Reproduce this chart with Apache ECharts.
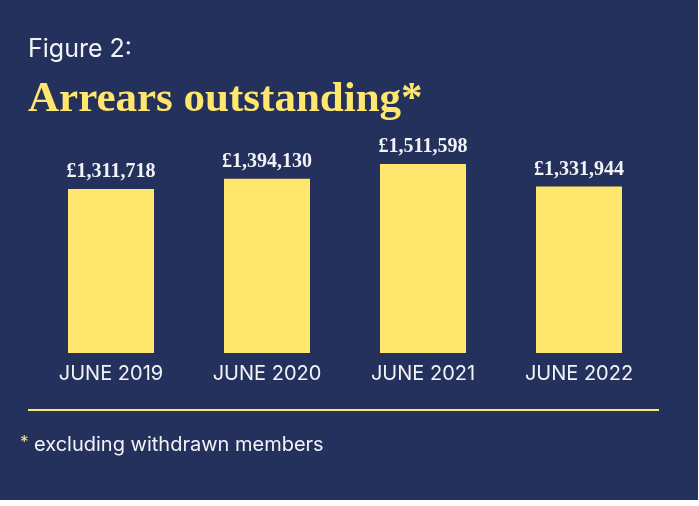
<!DOCTYPE html>
<html>
<head>
<meta charset="utf-8">
<script src="https://cdn.jsdelivr.net/npm/echarts@6/dist/echarts.min.js"></script>
<style>
  html, body { margin: 0; padding: 0; background: #ffffff; }
  #chart { width: 699px; height: 506px; }
</style>
</head>
<body>
<div id="chart"></div>
<script>
// Arrears outstanding by year (GBP)
const categories = ['JUNE 2019', 'JUNE 2020', 'JUNE 2021', 'JUNE 2022'];
const arrears = [1311718, 1394130, 1511598, 1331944];

const NAVY = '#23315c';
const YELLOW = '#ffe66d';
const WHITE = '#f2f3f7';

const chart = echarts.init(document.getElementById('chart'), null, { renderer: 'canvas' });

const fmt = v => '£' + v.toLocaleString('en-GB');

chart.setOption({
  backgroundColor: '#ffffff',
  animation: false,
  graphic: [
    { type: 'rect', z: -10, shape: { x: 0, y: 0, width: 698, height: 500 }, style: { fill: NAVY } },
    { type: 'text', left: 28, top: 37, style: { text: 'Figure 2:', fill: WHITE, font: '400 25px Inter' } },
    { type: 'text', left: 28, top: 78, style: { text: 'Arrears outstanding*', fill: YELLOW, font: 'bold 43px "Liberation Serif"' } },
    { type: 'line', shape: { x1: 28, y1: 410, x2: 659, y2: 410 }, style: { stroke: YELLOW, lineWidth: 2 } },
    { type: 'text', left: 20, top: 434, style: { text: '*', fill: YELLOW, font: '400 17px Inter' } },
    { type: 'text', left: 34, top: 435, style: { text: 'excluding withdrawn members', fill: WHITE, font: '400 20px Inter' } }
  ],
  grid: { left: 33, right: 42, top: 153, bottom: 153 },
  xAxis: {
    type: 'category',
    data: categories,
    axisLine: { show: false },
    axisTick: { show: false },
    axisLabel: { color: WHITE, fontFamily: 'Inter', fontSize: 20, margin: 11 }
  },
  yAxis: {
    type: 'value',
    min: 0,
    max: 1600000,
    show: false,
    splitLine: { show: false }
  },
  series: [{
    type: 'bar',
    data: arrears,
    barWidth: 86,
    itemStyle: { color: YELLOW },
    label: {
      show: true,
      position: 'top',
      distance: 7,
      color: WHITE,
      fontFamily: 'Liberation Serif',
      fontWeight: 'bold',
      fontSize: 20,
      formatter: p => fmt(p.value)
    }
  }]
});
</script>
</body>
</html>
